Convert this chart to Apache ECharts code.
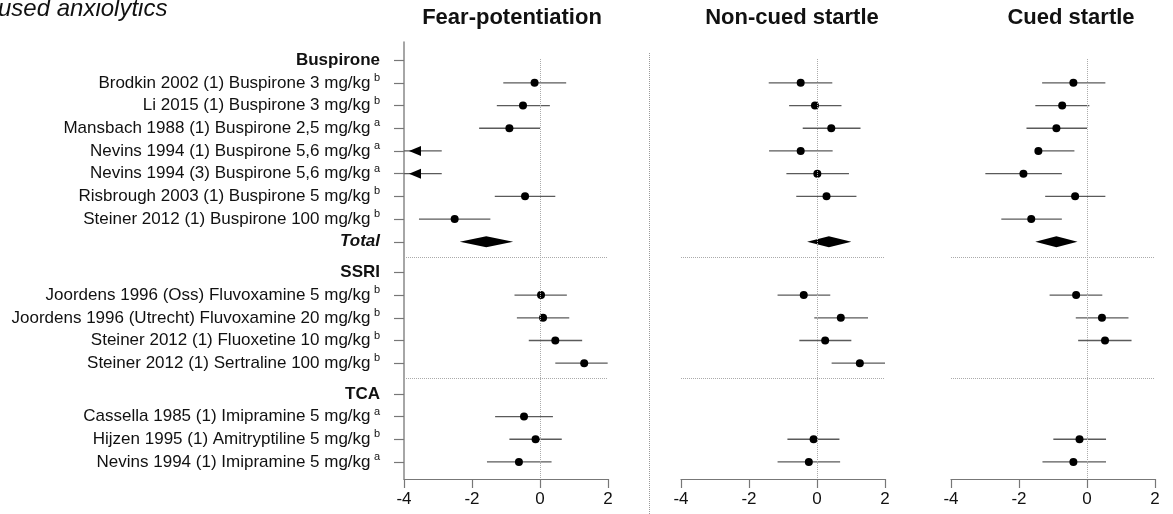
<!DOCTYPE html>
<html>
<head>
<meta charset="utf-8">
<script src="https://cdn.jsdelivr.net/npm/echarts@6/dist/echarts.min.js"></script>
<style>
  html, body { margin: 0; padding: 0; background: #fff; }
  #chart { width: 1173px; height: 514px; }
</style>
</head>
<body>
<div id="chart"></div>
<script>
// rows of the forest plot, top to bottom
const rowLabels = [
  'Buspirone',
  'Brodkin 2002 (1) Buspirone 3 mg/kg',
  'Li 2015 (1) Buspirone 3 mg/kg',
  'Mansbach 1988 (1) Buspirone 2,5 mg/kg',
  'Nevins 1994 (1) Buspirone 5,6 mg/kg',
  'Nevins 1994 (3) Buspirone 5,6 mg/kg',
  'Risbrough 2003 (1) Buspirone 5 mg/kg',
  'Steiner 2012 (1) Buspirone 100 mg/kg',
  'Total',
  'SSRI',
  'Joordens 1996 (Oss) Fluvoxamine 5 mg/kg',
  'Joordens 1996 (Utrecht) Fluvoxamine 20 mg/kg',
  'Steiner 2012 (1) Fluoxetine 10 mg/kg',
  'Steiner 2012 (1) Sertraline 100 mg/kg',
  'TCA',
  'Cassella 1985 (1) Imipramine 5 mg/kg',
  'Hijzen 1995 (1) Amitryptiline 5 mg/kg',
  'Nevins 1994 (1) Imipramine 5 mg/kg'
];
const rowNotes = ['', 'b', 'b', 'a', 'a', 'a', 'b', 'b', '', '', 'b', 'b', 'b', 'b', '', 'a', 'b', 'a'];
const rowKinds = ['head', 'study', 'study', 'study', 'study', 'study', 'study', 'study', 'total',
  'head', 'study', 'study', 'study', 'study', 'head', 'study', 'study', 'study'];
const rowGroups = [0, 0, 0, 0, 0, 0, 0, 0, 0, 1, 1, 1, 1, 1, 2, 2, 2, 2];

const panelTitles = ['Fear-potentiation', 'Non-cued startle', 'Cued startle'];
const xTicks = [-4, -2, 0, 2];

// effect sizes with 95% CI (null = not shown)
const fearEst  = [null, -0.16, -0.50, -0.90, null, null, -0.44, -2.51, -1.58, null, 0.03, 0.09, 0.45, 1.30, null, -0.47, -0.13, -0.62];
const fearLow  = [null, -1.08, -1.27, -1.79, -4.80, -4.80, -1.33, -3.56, -2.36, null, -0.75, -0.68, -0.33, 0.45, null, -1.32, -0.90, -1.56];
const fearHigh = [null, 0.77, 0.29, 0.00, -2.89, -2.89, 0.45, -1.46, -0.79, null, 0.79, 0.86, 1.24, 1.99, null, 0.38, 0.64, 0.34];

const noncuedEst  = [null, -0.48, -0.06, 0.42, -0.48, 0.01, 0.28, null, 0.35, null, -0.39, 0.70, 0.24, 1.26, null, null, -0.10, -0.24];
const noncuedLow  = [null, -1.42, -0.82, -0.42, -1.41, -0.90, -0.61, null, -0.29, null, -1.16, -0.08, -0.52, 0.43, null, null, -0.87, -1.16];
const noncuedHigh = [null, 0.45, 0.72, 1.28, 0.46, 0.94, 1.16, null, 1.01, null, 0.39, 1.50, 1.01, 2.00, null, null, 0.66, 0.68];

const cuedEst  = [null, -0.40, -0.73, -0.90, -1.43, -1.87, -0.35, -1.64, -0.90, null, -0.32, 0.44, 0.53, null, null, null, -0.22, -0.40];
const cuedLow  = [null, -1.32, -1.52, -1.78, -1.50, -2.99, -1.23, -2.52, -1.52, null, -1.10, -0.33, -0.26, null, null, null, -0.99, -1.31];
const cuedHigh = [null, 0.54, 0.07, 0.00, -0.37, -0.74, 0.54, -0.74, -0.28, null, 0.45, 1.22, 1.31, null, null, null, 0.56, 0.56];

const X_MIN = -4, X_MAX = 2;
const Y_MIN = -0.8, Y_MAX = 18.45;
const GROUP_GAP = 0.35;
const FONT = 'Liberation Sans, Arial, sans-serif';

// row positions on the y axis: one unit per row, a little extra between groups
const rowPos = rowLabels.map((l, i) => i + rowGroups[i] * GROUP_GAP);
const sepPos = [];
for (let i = 1; i < rowPos.length; i++) {
  if (rowGroups[i] !== rowGroups[i - 1]) sepPos.push((rowPos[i] + rowPos[i - 1]) / 2);
}

const panels = [
  { est: fearEst, low: fearLow, high: fearHigh, left: 404 },
  { est: noncuedEst, low: noncuedLow, high: noncuedHigh, left: 681 },
  { est: cuedEst, low: cuedLow, high: cuedHigh, left: 951 }
];

function labelFor(value) {
  const i = rowPos.findIndex((p) => Math.abs(p - value) < 1e-6);
  if (i < 0) return '';
  if (rowKinds[i] === 'head') return '{h|' + rowLabels[i] + '}';
  if (rowKinds[i] === 'total') return '{t|' + rowLabels[i] + '}';
  return '{n|' + rowLabels[i] + '} {sup|' + rowNotes[i] + '}';
}

// CI lines, arrows and summary diamonds
function renderCI(params, api) {
  const lo = api.value(0), pos = api.value(1), hi = api.value(2), est = api.value(3), isTotal = api.value(4);
  if (isTotal) {
    const l = api.coord([lo, pos]), c = api.coord([est, pos]), r = api.coord([hi, pos]);
    return {
      type: 'polygon',
      shape: { points: [[l[0], l[1]], [c[0], c[1] - 5.5], [r[0], r[1]], [c[0], c[1] + 5.5]] },
      style: { fill: '#000' }
    };
  }
  const a = api.coord([Math.max(lo, X_MIN), pos]);
  const b = api.coord([Math.min(hi, X_MAX), pos]);
  const children = [{
    type: 'line',
    shape: { x1: a[0], y1: a[1], x2: b[0], y2: b[1] },
    style: { stroke: '#5a5a5a', lineWidth: 1.3 }
  }];
  if (lo < X_MIN) {
    const tip = a[0] + 5;
    children.push({
      type: 'polygon',
      shape: { points: [[tip, a[1]], [tip + 12, a[1] - 5], [tip + 12, a[1] + 5]] },
      style: { fill: '#000' }
    });
  }
  return { type: 'group', children };
}

const grids = [], xAxes = [], yAxes = [], series = [];
panels.forEach((p, k) => {
  grids.push({ left: p.left, width: 204, top: 42, bottom: 35 });
  xAxes.push({
    type: 'value', gridIndex: k, min: X_MIN, max: X_MAX, interval: 2, position: 'bottom',
    splitLine: { show: false },
    axisLine: { show: true, onZero: false, lineStyle: { color: '#777', width: 1.2 } },
    axisTick: { show: true, length: 9, lineStyle: { color: '#777', width: 1.2 } },
    axisLabel: { color: '#111', fontSize: 17, fontFamily: FONT, margin: 12 }
  });
  yAxes.push({
    type: 'value', gridIndex: k, inverse: true, min: Y_MIN, max: Y_MAX, position: 'left',
    show: k === 0,
    splitLine: { show: false },
    axisLine: { show: true, onZero: false, lineStyle: { color: '#888', width: 1.5 } },
    axisTick: { show: true, length: 10, customValues: rowPos, lineStyle: { color: '#777', width: 1.2 } },
    axisLabel: {
      margin: 24, customValues: rowPos, formatter: labelFor,
      rich: {
        n: { fontSize: 17, fontFamily: FONT, color: '#111', lineHeight: 20 },
        h: { fontSize: 17, fontFamily: FONT, color: '#111', fontWeight: 'bold', lineHeight: 20 },
        t: { fontSize: 17, fontFamily: FONT, color: '#111', fontWeight: 'bold', fontStyle: 'italic', lineHeight: 20 },
        sup: { fontSize: 11, fontFamily: FONT, color: '#111', lineHeight: 10, padding: [0, 0, 10, 0] }
      }
    }
  });

  const ciData = [], dotData = [];
  rowPos.forEach((pos, i) => {
    if (p.low[i] == null || p.high[i] == null) return;
    const isTotal = rowKinds[i] === 'total' ? 1 : 0;
    ciData.push([p.low[i], pos, p.high[i], p.est[i], isTotal]);
    if (!isTotal && p.est[i] != null) dotData.push([p.est[i], pos]);
  });

  const markData = [[{ coord: [0, rowPos[0] - 0.05] }, { coord: [0, Y_MAX] }]];
  sepPos.forEach((s) => markData.push([{ coord: [X_MIN, s] }, { coord: [X_MAX, s] }]));

  series.push({
    type: 'custom', xAxisIndex: k, yAxisIndex: k, z: 3,
    renderItem: renderCI, data: ciData,
    encode: { x: [0, 2, 3], y: 1 },
    clip: false, silent: true, animation: false
  });
  series.push({
    type: 'scatter', xAxisIndex: k, yAxisIndex: k, z: 4,
    data: dotData, symbol: 'circle', symbolSize: 8,
    itemStyle: { color: '#000', opacity: 1 }, silent: true, animation: false,
    markLine: {
      silent: true, symbol: 'none', animation: false,
      label: { show: false },
      lineStyle: { type: 'dotted', color: '#aaa', width: 1 },
      data: markData
    }
  });
});

const chart = echarts.init(document.getElementById('chart'));
chart.setOption({
  backgroundColor: '#fff',
  animation: false,
  grid: grids,
  xAxis: xAxes,
  yAxis: yAxes,
  series: series,
  graphic: [
    { type: 'text', x: -2, y: 9, style: { text: 'used anxiolytics', font: 'italic 24px ' + FONT, fill: '#111', textVerticalAlign: 'middle' } },
    { type: 'text', x: 512, y: 18, style: { text: panelTitles[0], font: 'bold 22px ' + FONT, fill: '#111', textAlign: 'center', textVerticalAlign: 'middle' } },
    { type: 'text', x: 792, y: 18, style: { text: panelTitles[1], font: 'bold 22px ' + FONT, fill: '#111', textAlign: 'center', textVerticalAlign: 'middle' } },
    { type: 'text', x: 1071, y: 18, style: { text: panelTitles[2], font: 'bold 22px ' + FONT, fill: '#111', textAlign: 'center', textVerticalAlign: 'middle' } },
    { type: 'line', shape: { x1: 649.5, y1: 53, x2: 649.5, y2: 514 }, style: { stroke: '#999', lineWidth: 1, lineDash: [1, 1] } }
  ]
});
</script>
</body>
</html>
